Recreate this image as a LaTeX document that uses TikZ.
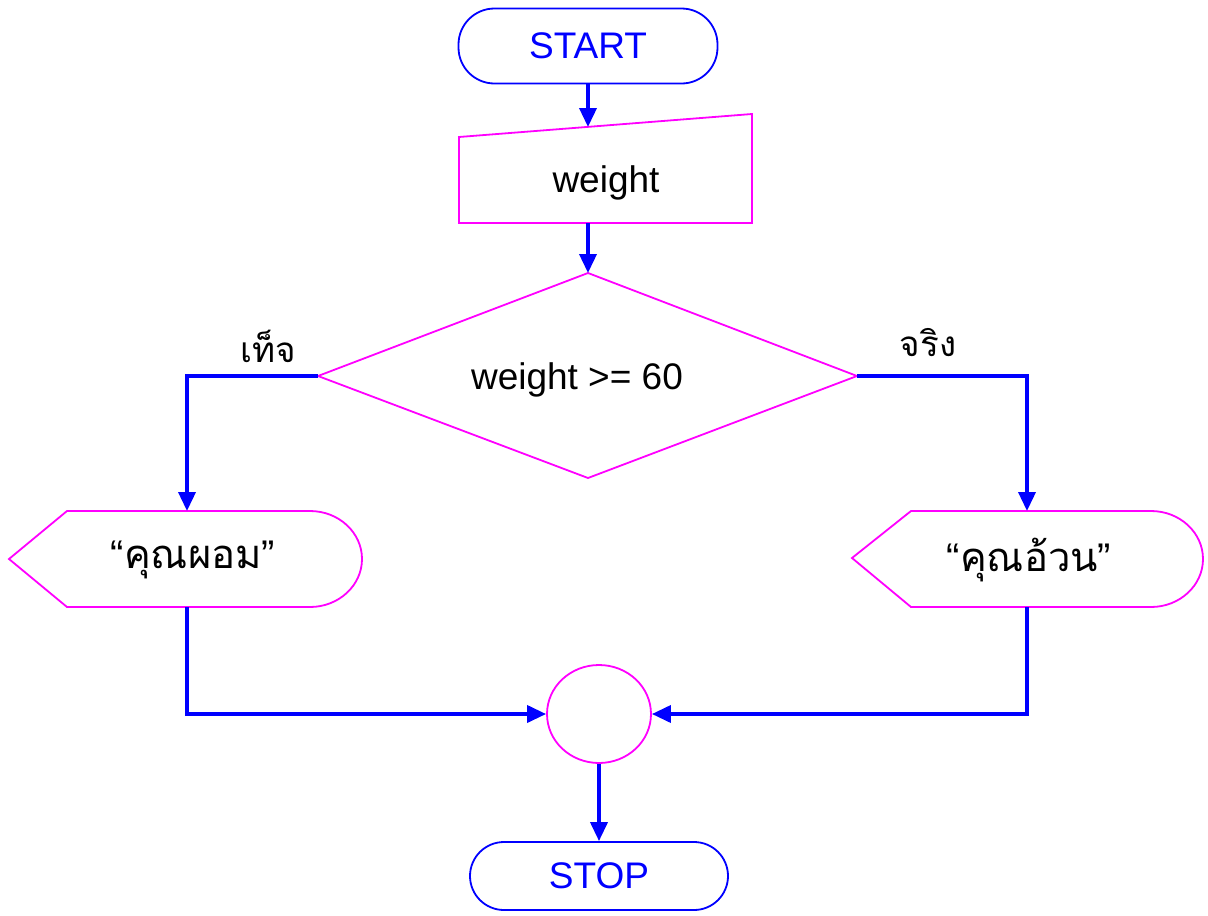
\documentclass[tikz,border=0pt]{standalone}
\usepackage{fontspec}
\setmainfont{Liberation Sans}
\newfontfamily\thai[Script=Thai]{Loma}
\usetikzlibrary{arrows.meta,shapes.geometric}
\definecolor{fblue}{RGB}{0,0,255}
\definecolor{fmag}{RGB}{255,0,255}
\tikzset{
  conn/.style={draw=fblue,line width=3.6pt,-{Triangle[length=19pt,width=17pt]}},
  term/.style={draw=fblue,line width=1.8pt,rounded corners=36pt,text=fblue,inner sep=0pt,font=\fontsize{37}{42}\selectfont},
  shapeline/.style={draw=fmag,line width=1.8pt},
  txt/.style={font=\fontsize{37}{42}\selectfont,text=black,inner sep=0pt},
  thaitxt/.style={font=\thai\fontsize{35}{40}\selectfont,text=black,inner sep=0pt},
  disptxt/.style={font=\fontsize{40}{44}\selectfont,text=black,inner sep=0pt},
}
\begin{document}
\begin{tikzpicture}[x=1pt,y=-1pt]
\useasboundingbox (0,0) rectangle (1208,916);
% START
\node[term,minimum width=259pt,minimum height=75pt] (start) at (588,46) {START};
% input
\draw[shapeline] (459,137) -- (752,114) -- (752,223) -- (459,223) -- cycle;
\node[txt] (inp) at (606,183) {weight};
\coordinate (inTop) at (588,127);
\coordinate (inBot) at (588,223);
% decision
\coordinate (dTop) at (588,273);
\coordinate (dLeft) at (318,376);
\coordinate (dRight) at (857,376);
\coordinate (dBot) at (588,478);
\draw[shapeline] (dTop) -- (dRight) -- (dBot) -- (dLeft) -- cycle;
\node[txt] (dec) at (577,380) {weight >= 60};
\node[thaitxt] (lf) at (268,346) {เท็จ};
\node[thaitxt] (lt) at (928,343) {จริง};
% displays
\draw[shapeline] (9,559) -- (67,511) -- (310,511) arc[start angle=-90,end angle=90,x radius=52,y radius=48] -- (67,607) -- cycle;
\node[disptxt] (dispL) at (193,560) {“{\thai คุณผอม}”};
\coordinate (dLTop) at (187,511);
\coordinate (dLBot) at (187,607);
\draw[shapeline] (852,558) -- (911,511) -- (1151,511) arc[start angle=-90,end angle=90,x radius=52,y radius=48] -- (911,607) -- cycle;
\node[disptxt] (dispR) at (1029,560) {“{\thai คุณอ้วน}”};
\coordinate (dRTop) at (1027,511);
\coordinate (dRBot) at (1027,607);
% connector circle
\node[ellipse,shapeline,minimum width=104pt,minimum height=98pt,inner sep=0pt] (jn) at (599,714) {};
% STOP
\node[term,minimum width=258pt,minimum height=68pt,rounded corners=34pt] (stop) at (599,876) {STOP};
% connectors
\draw[conn] (start.south) -- (inTop);
\draw[conn] (inBot) -- (dTop);
\draw[conn] (dLeft) -| (dLTop);
\draw[conn] (dRight) -| (dRTop);
\draw[conn] (dLBot) |- (jn.west);
\draw[conn] (dRBot) |- (jn.east);
\draw[conn] (jn.south) -- (stop.north);
\end{tikzpicture}
\end{document}
